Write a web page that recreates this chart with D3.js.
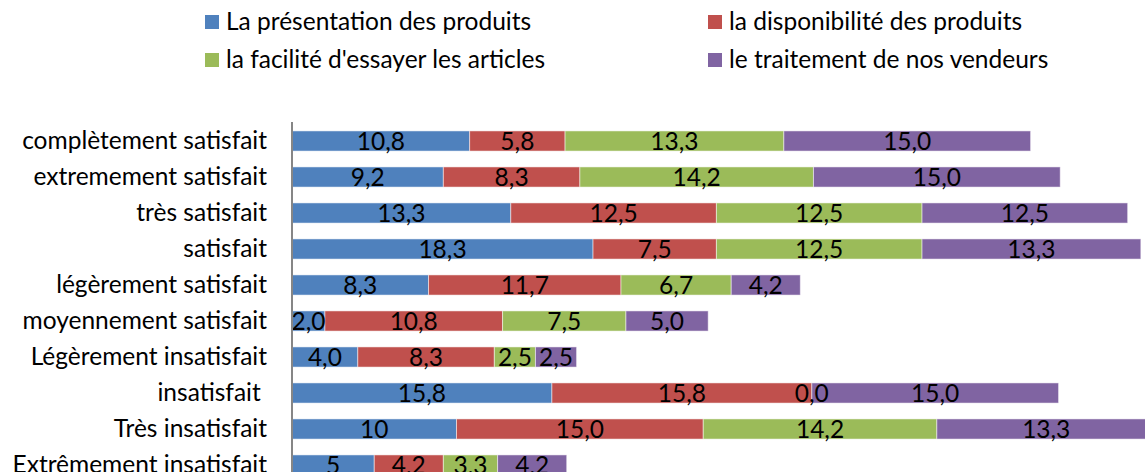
<!DOCTYPE html>
<meta charset="utf-8">
<head>
<script src="https://d3js.org/d3.v7.min.js"></script>
<style>
  body { margin: 0; background: #fff; }
  text { font-family: Lato, "Open Sans", sans-serif; fill: #000; }
  .cat { white-space: pre; }
</style>
</head>
<body>
<div id="chart"></div>
<script>
'use strict';
// categories, top to bottom
var categories = ["complètement satisfait", "extremement satisfait", "très satisfait", "satisfait",
  "légèrement satisfait", "moyennement satisfait", "Légèrement insatisfait", "insatisfait ",
  "Très insatisfait", "Extrêmement insatisfait"];

var seriesNames = ["La présentation des produits", "la disponibilité des produits",
  "la facilité d'essayer les articles", "le traitement de nos vendeurs"];
var seriesColors = ["#4F81BD", "#C0504D", "#9BBB59", "#8064A2"];

// labels as printed on the bars
var presentation = ["10,8", "9,2", "13,3", "18,3", "8,3", "2,0", "4,0", "15,8", "10", "5"];
var disponibilite = ["5,8", "8,3", "12,5", "7,5", "11,7", "10,8", "8,3", "15,8", "15,0", "4,2"];
var facilite = ["13,3", "14,2", "12,5", "12,5", "6,7", "7,5", "2,5", "0,0", "14,2", "3,3"];
var traitement = ["15,0", "15,0", "12,5", "13,3", "4,2", "5,0", "2,5", "15,0", "13,3", "4,2"];

var seriesLabels = [presentation, disponibilite, facilite, traitement];

var width = 1145, height = 472;
var fs = 24.5;
var svg = d3.select("#chart").append("svg")
  .attr("width", width).attr("height", height);

var x = d3.scaleLinear().domain([0, 60]).range([292, 292 + 60 * 16.45]);
var y = d3.scaleBand().domain(categories).range([123, 123 + 36 * categories.length]).paddingInner(0.44).paddingOuter(0.22);

// build stacked rows
var rows = categories.map(function (c, i) {
  var row = { cat: c };
  seriesLabels.forEach(function (s, k) { row["s" + k] = +s[i].replace(",", "."); });
  return row;
});
var stack = d3.stack().keys(["s0", "s1", "s2", "s3"])(rows);

var layers = svg.selectAll(".layer").data(stack).enter().append("g")
  .attr("class", "layer")
  .attr("fill", function (d, k) { return seriesColors[k]; });

layers.selectAll("rect").data(function (d) { return d; }).enter().append("rect")
  .attr("x", function (d) { return x(d[0]); })
  .attr("y", function (d) { return y(d.data.cat); })
  .attr("width", function (d) { return x(d[1]) - x(d[0]); })
  .attr("height", y.bandwidth())
  .attr("stroke", "#ffffff").attr("stroke-opacity", 0.5).attr("stroke-width", 1);

// labels on top of all the bars
var labelG = svg.append("g");
stack.forEach(function (layer, k) {
  labelG.selectAll(".lab" + k).data(layer).enter().append("text")
    .attr("class", "lab" + k)
    .attr("x", function (d) { return (x(d[0]) + x(d[1])) / 2; })
    .attr("y", function (d) { return y(d.data.cat) + y.bandwidth() / 2 + 9; })
    .attr("text-anchor", "middle")
    .attr("font-size", fs)
    .text(function (d, i) { return seriesLabels[k][i]; });
});

// vertical axis
var yaxis = d3.axisLeft(y).tickSize(0).tickPadding(25);
var ag = svg.append("g").attr("transform", "translate(292,0)").call(yaxis);
ag.select(".domain").attr("d", "M0,122V" + height).attr("stroke", "#868686").attr("stroke-width", 2);
ag.selectAll("text").attr("class", "cat").attr("font-size", fs).attr("dy", "0.33em")
  .attr("font-family", "Lato, 'Open Sans', sans-serif").attr("fill", "#000");

// legend
var legPos = [[205, 22], [708, 22], [205, 60], [708, 60]];
var leg = svg.selectAll(".leg").data(seriesNames).enter().append("g")
  .attr("transform", function (d, k) { return "translate(" + legPos[k][0] + "," + legPos[k][1] + ")"; });
leg.append("rect").attr("x", 0).attr("y", -7).attr("width", 14).attr("height", 14)
  .attr("fill", function (d, k) { return seriesColors[k]; });
leg.append("text").attr("x", 21).attr("y", 8).attr("font-size", fs).text(function (d) { return d; });
</script>
</body>
